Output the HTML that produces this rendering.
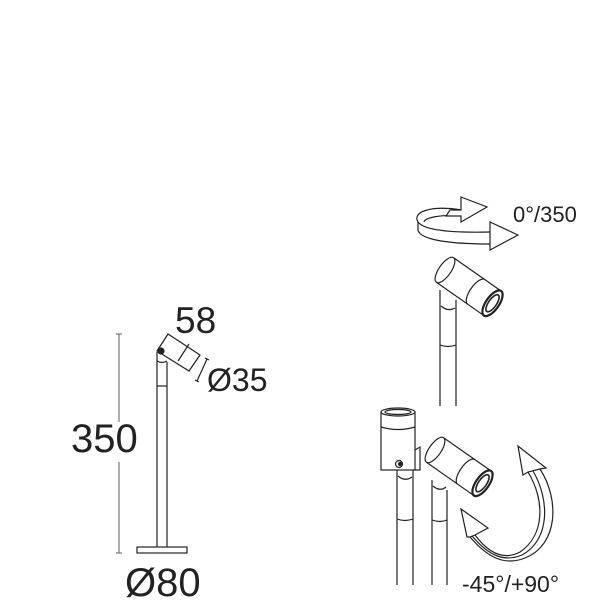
<!DOCTYPE html>
<html><head><meta charset="utf-8"><style>
html,body{margin:0;padding:0;background:#fff;}
svg{display:block;}
text{font-family:"Liberation Sans",sans-serif;fill:#222;}
</style></head><body>
<svg width="613" height="613" viewBox="0 0 613 613" xmlns="http://www.w3.org/2000/svg">
<g fill="none" stroke="#222" stroke-width="1.2">
<line x1="119" y1="334" x2="119" y2="422" stroke="#777"/>
<line x1="119" y1="462" x2="119" y2="553" stroke="#777"/>
<line x1="116" y1="334" x2="122" y2="334" stroke="#777"/>
<line x1="116" y1="553" x2="122" y2="553" stroke="#777"/>
<rect x="137" y="547" width="50" height="6" fill="#fff"/>
<line x1="157" y1="352" x2="157" y2="547"/>
<line x1="167" y1="362" x2="167" y2="547"/>
<line x1="157" y1="386" x2="167" y2="386"/>
<path d="M157 361 Q162 364 167 361"/>
<polygon points="157,351 168,334 200,355 189,371" fill="#fff"/>
<line x1="189" y1="344" x2="178" y2="361"/>
<circle cx="161" cy="351" r="3" fill="#222"/>
<line x1="207" y1="359" x2="197" y2="381"/>
<line x1="205" y1="358" x2="209" y2="360"/>
<line x1="195" y1="380" x2="199" y2="382"/>

<line x1="440" y1="290" x2="440" y2="406"/>
<line x1="456" y1="300" x2="456" y2="406"/>
<path d="M440 345 Q448 348 456 345"/>
<path d="M441 306 Q448 312 455 308"/>
<g transform="translate(445,270) rotate(35)">
<path d="M0 -15 L58 -15 M0 15 L58 15" />
<ellipse cx="0" cy="0" rx="6" ry="15" fill="#fff"/>
<path d="M38 -15 A6 15 0 0 0 38 15"/>
<ellipse cx="58" cy="0" rx="6.5" ry="15" stroke-width="2.2" fill="#fff"/>
<ellipse cx="58" cy="0" rx="4" ry="10" stroke-width="1.6"/>
</g>

<path d="M462 210 C430 205 412 212 418 222 C424 230 450 233 490 232"/>
<path d="M462 216 C440 214 425 218 424 222"/>
<path d="M418 222 L418 230 C420 240 450 244 490 244"/>
<polygon points="461,197 487,207 461,222 461,216 446,216 450,210 461,210" fill="#fff"/>
<polygon points="490,222 518,235 490,250 490,244 490,232" fill="#fff"/>

<line x1="397" y1="470" x2="397" y2="585"/>
<line x1="413" y1="470" x2="413" y2="585"/>
<path d="M397 519 Q405 522 413 519"/>
<path d="M398 476 Q405 482 412 477"/>
<rect x="381" y="412" width="34" height="58" fill="#fff"/>
<ellipse cx="398" cy="412" rx="17" ry="4" fill="#fff"/>
<ellipse cx="398" cy="412" rx="13" ry="2.5"/>
<path d="M381 427 Q398 432 415 427"/>
<circle cx="399" cy="464" r="3.5" fill="#fff"/>
<circle cx="400" cy="464" r="1.5" fill="#222"/>
<path d="M415 450 L420 447 L420 470 L415 470"/>

<line x1="432" y1="480" x2="432" y2="585"/>
<line x1="447" y1="490" x2="447" y2="585"/>
<path d="M432 520 Q440 523 447 520"/>
<path d="M433 486 Q440 492 446 487"/>
<g transform="translate(435,450) rotate(35)">
<path d="M0 -15 L58 -15 M0 15 L58 15" fill="#fff"/>
<ellipse cx="0" cy="0" rx="6" ry="15" fill="#fff"/>
<path d="M38 -15 A6 15 0 0 0 38 15"/>
<ellipse cx="58" cy="0" rx="6.5" ry="15" stroke-width="2.2" fill="#fff"/>
<ellipse cx="58" cy="0" rx="4" ry="10" stroke-width="1.6"/>
</g>

<path d="M528 472 C545 500 545 535 520 552 C505 560 490 555 475 535"/>
<path d="M540 469 C560 500 558 545 525 558 C505 566 488 558 470 537"/>
<path d="M533 471 C550 500 550 540 522 555 C505 562 490 557 472 536"/>
<polygon points="518,446 546,468 540,469 528,472 523,475" fill="#fff"/>
<polygon points="461,509 488,528 475,535 470,537 467,537" fill="#fff"/>
</g>
<text x="175" y="333" font-size="37">58</text>
<text x="207" y="391" font-size="32">Ø35</text>
<text x="71" y="452" font-size="40">350</text>
<text x="125" y="596" font-size="40">Ø80</text>
<text x="513" y="222" font-size="22">0°/350</text>
<text x="462" y="592" font-size="23">-45°/+90°</text>
</svg>
</body></html>
